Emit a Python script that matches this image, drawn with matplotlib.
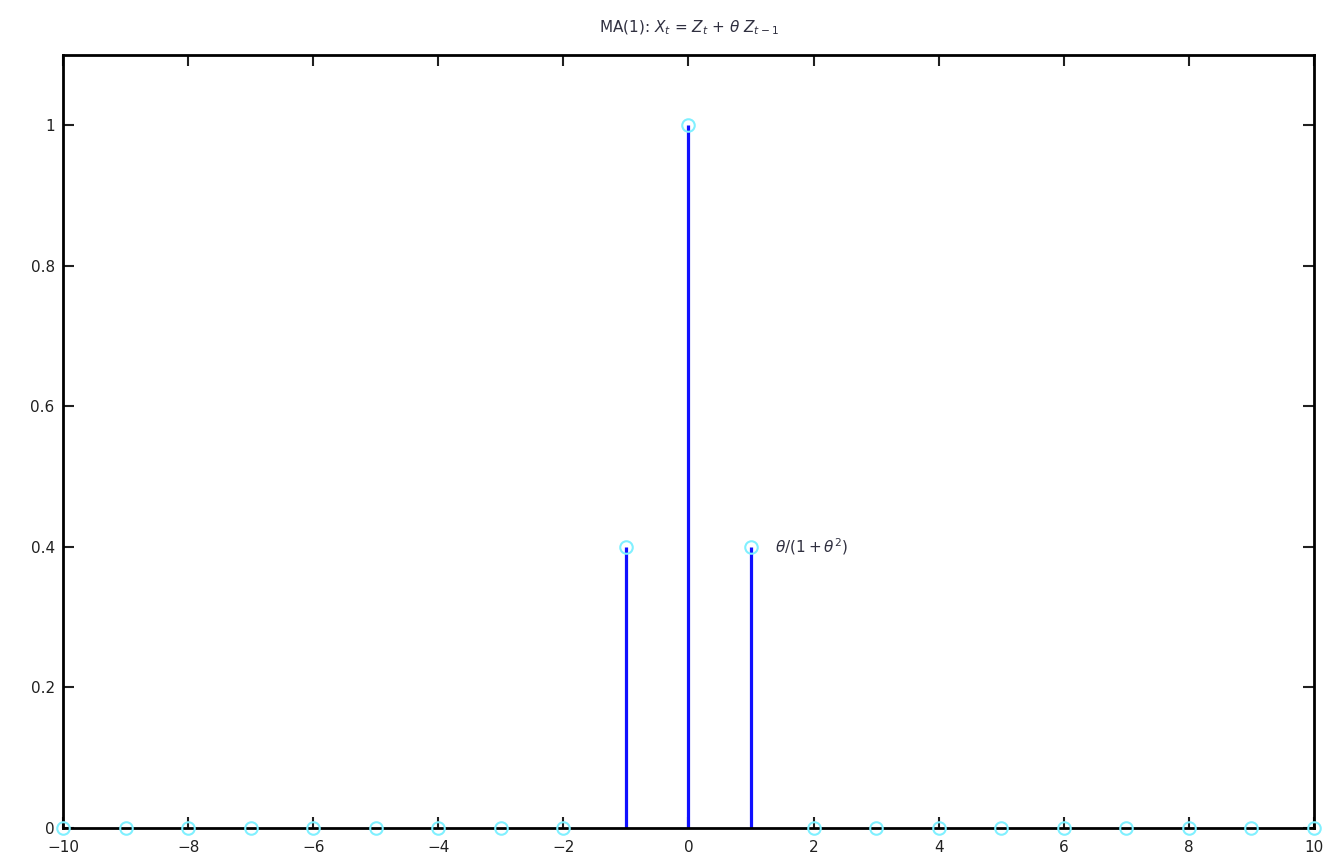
import numpy as np
import matplotlib
matplotlib.use("Agg")
import matplotlib.pyplot as plt

# autocorrelation of an MA(1) process, lags -10..10
lags = list(range(-10, 11))
acf = [0, 0, 0, 0, 0, 0, 0, 0, 0, 0.4, 1.0, 0.4, 0, 0, 0, 0, 0, 0, 0, 0, 0]
xticks = [-10, -8, -6, -4, -2, 0, 2, 4, 6, 8, 10]
yticks = [0, 0.2, 0.4, 0.6, 0.8, 1.0]
ytick_labels = ["0", "0.2", "0.4", "0.6", "0.8", "1"]


def main():
    fig = plt.figure(figsize=(13.29, 8.58), dpi=100)
    ax = fig.add_axes([0.0474, 0.035, 0.9413, 0.901])

    lags_arr = np.array(lags)
    acf_arr = np.array(acf)
    nz = acf_arr != 0
    ax.vlines(lags_arr[nz], 0, acf_arr[nz], color="#1010ff", linewidth=2.3, zorder=2)
    ax.plot(lags_arr, acf_arr, linestyle="none", marker="o", markersize=9,
            markerfacecolor="none", markeredgecolor="#80f0ff",
            markeredgewidth=1.5, zorder=3, clip_on=False)

    ax.text(1.38, 0.4, r"$\theta/(1+\theta^2)$", fontsize=11, va="center",
            ha="left", color="#303040")

    ax.set_xlim(-10, 10)
    ax.set_ylim(0, 1.1)
    ax.set_xticks(xticks)
    ax.set_yticks(yticks)
    ax.set_yticklabels(ytick_labels)
    ax.tick_params(direction="in", length=8, width=1.5, top=True, right=True,
                   labelsize=11, colors="#202020")
    ax.tick_params(axis="x", pad=9)
    ax.tick_params(axis="y", pad=6)
    for side in ax.spines.values():
        side.set_linewidth(2)
        side.set_color("black")

    ax.set_title(r"MA(1): $X_t$ = $Z_t$ + $\theta$ $Z_{t-1}$", fontsize=11,
                 color="#303040", pad=16)

    fig.savefig("out.png", dpi=100)


if __name__ == "__main__":
    main()
